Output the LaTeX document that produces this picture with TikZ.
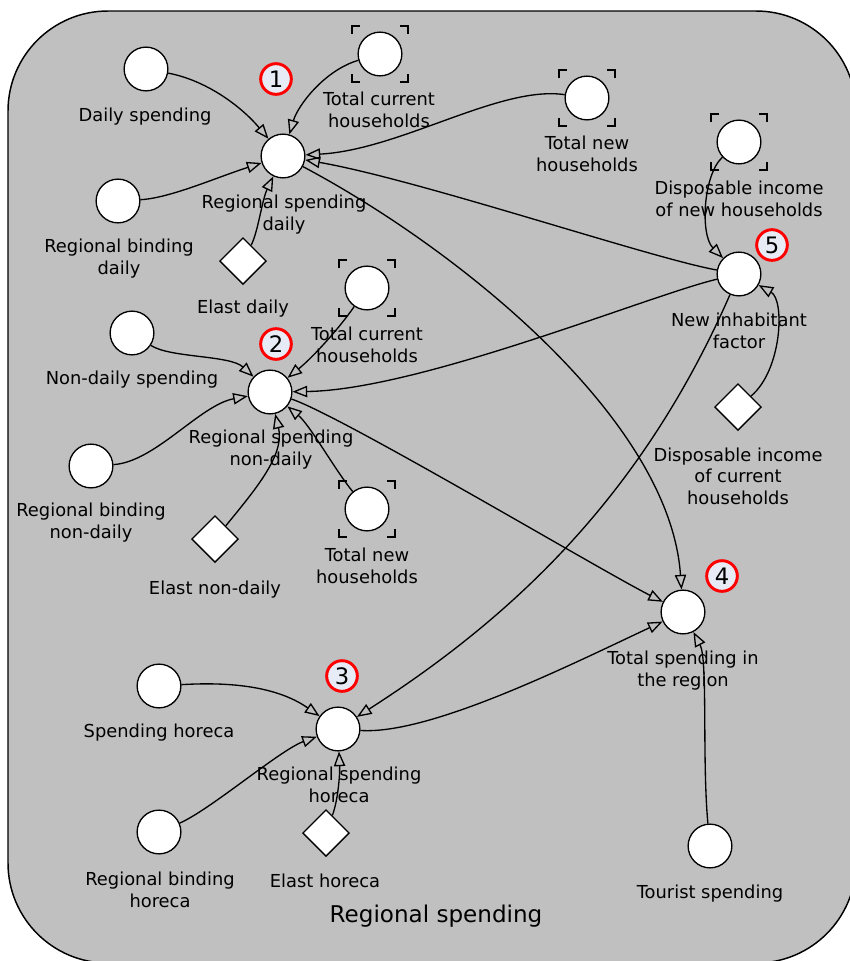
\documentclass[tikz,border=0pt]{standalone}
\usepackage{fontspec}
\setmainfont{DejaVu Sans}
\usetikzlibrary{shapes.geometric,arrows.meta}
\definecolor{bggray}{RGB}{192,192,192}
\definecolor{badgefill}{RGB}{230,235,245}
\tikzset{
  circ/.style={circle, draw, fill=white, line width=1pt, minimum size=32.8pt, inner sep=0pt},
  dmd/.style={diamond, draw, fill=white, line width=1pt, minimum size=35pt, inner sep=0pt},
  badge/.style={circle, draw=red, fill=badgefill, line width=2.2pt, minimum size=23pt, inner sep=0pt, font=\fontsize{17pt}{17pt}\selectfont},
  lbl/.style={align=center, anchor=base, inner sep=0pt, font=\fontsize{13.4pt}{15.9pt}\selectfont},
  link/.style={line width=1pt, -{Triangle[open, length=11pt, width=8.5pt]}},
  bracket/.style={line width=1pt},
  frame/.style={draw=black, fill=bggray, line width=1.1pt, rounded corners=75pt}
}
\newcommand\cmarks[1]{%
  \draw[bracket] ([shift={(-28,-20)}]#1.center) -- ++(0,-8) -- ++(8,0);
  \draw[bracket] ([shift={(20,-28)}]#1.center) -- ++(8,0) -- ++(0,8);
  \draw[bracket] ([shift={(28,20)}]#1.center) -- ++(0,8) -- ++(-8,0);
  \draw[bracket] ([shift={(-20,28)}]#1.center) -- ++(-8,0) -- ++(0,-8);
}
\begin{document}
\begin{tikzpicture}[x=0.75pt, y=-0.75pt]
\useasboundingbox (0,0) rectangle (850,961);
\clip (0,0) rectangle (850,961);
\path[frame] (8,11) rectangle (856,963);

% nodes
\node[circ] (ds) at (146,69) {};
\node[circ] (tch1) at (380,54) {};
\node[circ] (rsd) at (283,156) {};
\node[circ] (rbd) at (118,201) {};
\node[dmd] (ed) at (243,261) {};
\node[circ] (tnh1) at (587,98) {};
\node[circ] (dinh) at (739,142) {};
\node[circ] (nif) at (739,274) {};
\node[circ] (nds) at (132,333) {};
\node[circ] (tch2) at (367,288) {};
\node[circ] (rsnd) at (270,392) {};
\node[circ] (rbnd) at (91,466) {};
\node[dmd] (elnd) at (215,539) {};
\node[circ] (tnh2) at (367,509) {};
\node[dmd] (dich) at (738,407) {};
\node[circ] (tsr) at (683,612) {};
\node[circ] (sh) at (159,686) {};
\node[circ] (rsh) at (338,729) {};
\node[circ] (rbh) at (159,832) {};
\node[dmd] (eh) at (326,833) {};
\node[circ] (ts) at (710,846) {};

\cmarks{tch1}
\cmarks{tnh1}
\cmarks{dinh}
\cmarks{tch2}
\cmarks{tnh2}

% labels (anchor at baseline of last line)
\node[lbl] (dsl) at (145,121) {Daily spending};
\node[lbl] (tch1l) at (379,127) {Total current\\households};
\node[lbl] (rsdl) at (284,230) {Regional spending\\daily};
\node[lbl] (rbdl) at (119,274) {Regional binding\\daily};
\node[lbl] (edl) at (243,313) {Elast daily};
\node[lbl] (tnh1l) at (587,171) {Total new\\households};
\node[lbl] (dinhl) at (739,216) {Disposable income\\of new households};
\node[lbl] (nifl) at (739,348) {New inhabitant\\factor};
\node[lbl] (ndsl) at (132,384) {Non-daily spending};
\node[lbl] (tch2l) at (367,362) {Total current\\households};
\node[lbl] (rsndl) at (271,465) {Regional spending\\non-daily};
\node[lbl] (rbndl) at (91,538) {Regional binding\\non-daily};
\node[lbl] (elndl) at (215,594) {Elast non-daily};
\node[lbl] (tnh2l) at (367,583) {Total new\\households};
\node[lbl] (dichl) at (738,504) {Disposable income\\of current\\households};
\node[lbl] (tsrl) at (683,686) {Total spending in\\the region};
\node[lbl] (shl) at (159,737) {Spending horeca};
\node[lbl] (rshl) at (339,802) {Regional spending\\horeca};
\node[lbl] (rbhl) at (160,907) {Regional binding\\horeca};
\node[lbl] (ehl) at (325,887) {Elast horeca};
\node[lbl] (tsl) at (710,898) {Tourist spending};
\node[anchor=base, inner sep=0pt, font=\fontsize{17.3pt}{20pt}\selectfont] (title) at (436,922) {Regional spending};

% badges
\node[badge] (b1) at (276,79) {1};
\node[badge] (b2) at (276,344) {2};
\node[badge] (b3) at (342,676) {3};
\node[badge] (b4) at (722,576) {4};
\node[badge] (b5) at (772,245) {5};

% connectors
\draw[link] (ds) .. controls (205,80) and (240,105) .. (rsd);
\draw[link] (tch1) .. controls (325,70) and (298,105) .. (rsd);
\draw[link] (tnh1) .. controls (500,85) and (400,150) .. (rsd);
\draw[link] (nif) .. controls (650,258) and (420,180) .. (rsd);
\draw[link] (rbd) .. controls (170,198) and (215,178) .. (rsd);
\draw[link] (ed) .. controls (258,232) and (262,200) .. (rsd);
\draw[link] (rsd) .. controls (460,250) and (670,420) .. (tsr);
\draw[link] (dinh) .. controls (703,175) and (700,235) .. (nif);
\draw[link] (dich) .. controls (782,370) and (785,300) .. (nif);
\draw[link] (nif) .. controls (641,498) and (511,618) .. (rsh);
\draw[link] (nif) .. controls (650,295) and (420,390) .. (rsnd);
\draw[link] (nds) .. controls (170,358) and (230,355) .. (rsnd);
\draw[link] (tch2) .. controls (338,330) and (312,358) .. (rsnd);
\draw[link] (rbnd) .. controls (155,462) and (200,405) .. (rsnd);
\draw[link] (elnd) .. controls (255,490) and (285,455) .. (rsnd);
\draw[link] (tnh2) .. controls (335,470) and (310,425) .. (rsnd);
\draw[link] (rsnd) .. controls (340,415) and (600,570) .. (tsr);
\draw[link] (sh) .. controls (225,682) and (275,685) .. (rsh);
\draw[link] (rbh) .. controls (210,810) and (280,750) .. (rsh);
\draw[link] (eh) .. controls (338,800) and (340,775) .. (rsh);
\draw[link] (rsh) .. controls (430,735) and (570,665) .. (tsr);
\draw[link] (ts) .. controls (702,760) and (708,660) .. (tsr);
\end{tikzpicture}
\end{document}
